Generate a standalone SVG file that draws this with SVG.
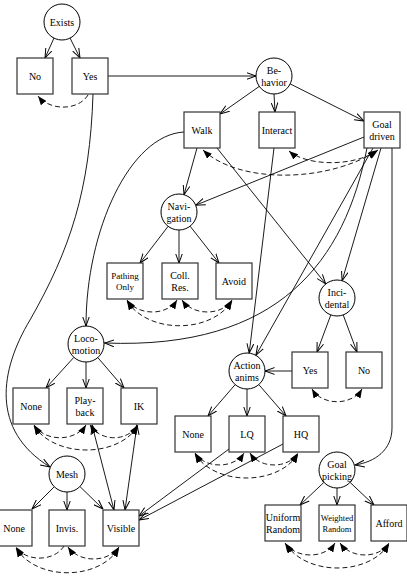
<svg xmlns="http://www.w3.org/2000/svg" width="407" height="584" viewBox="0 0 407 584">
<defs>
<style>
.n rect{fill:#fff;stroke:#333;stroke-width:1.2}
.n circle{fill:#fff;stroke:#000;stroke-width:1}
.n text{font-family:"Liberation Serif","Times New Roman",serif;font-size:10px;text-anchor:middle;fill:#000}
.n text.s{font-size:9px}
.n text.xs{font-size:8.5px}
#edges path{fill:none;stroke:#000;stroke-width:0.9}
#edges .e{marker-end:url(#open)}
#edges .b{marker-start:url(#open);marker-end:url(#open)}
#edges .d{stroke-dasharray:5,3;marker-start:url(#fill);marker-end:url(#fill)}
#edges .d1{stroke-dasharray:5,3;marker-end:url(#fill)}
</style>
<marker id="open" viewBox="0 0 10 8" markerWidth="10" markerHeight="8" refX="9.5" refY="4" orient="auto-start-reverse" markerUnits="userSpaceOnUse"><path d="M0,0.6 L9.5,4 L0,7.4" fill="none" stroke="#000" stroke-width="1"/></marker>
<marker id="fill" viewBox="0 0 9 7" markerWidth="9" markerHeight="7" refX="9" refY="3.5" orient="auto-start-reverse" markerUnits="userSpaceOnUse"><path d="M0,0 L9,3.5 L0,7 z" fill="#000"/></marker>
</defs>
<rect width="407" height="584" fill="#fff"/>
<g id="edges">
<path class="e" d="M54,38 L45,58"/>
<path class="e" d="M70,38 L80,58"/>
<path class="e" d="M108,76 L256,76"/>
<path class="e" d="M259.3,86.4 L220,114"/>
<path class="e" d="M274,94 L275,112"/>
<path class="e" d="M290.2,83.9 L364,121"/>
<path class="e" d="M197,148 L184,194.7"/>
<path class="e" d="M217,148 L325.7,283.9"/>
<path class="e" d="M274,148 L249.2,353.1"/>
<path class="e" d="M364,137 L195.7,205.2"/>
<path class="e" d="M373,148 L255.9,355.3"/>
<path class="e" d="M381,148 L342.1,280.7"/>
<path class="e" d="M392,148 L392,428 C392,450 375,462 355,465"/>
<path class="e" d="M367,148 C345,260 280,350 104.5,343"/>
<path class="e" d="M184,132 C130,135 86,230 86,326"/>
<path class="e" d="M93,94 C90,190 70,250 30,320 C0,370 -10,430 50,467"/>
<path class="e" d="M73.9,357.3 L46,388"/>
<path class="e" d="M86,362 L86,388"/>
<path class="e" d="M97.8,357.6 L124,388"/>
<path class="e" d="M235.2,384.6 L208,416"/>
<path class="e" d="M247,389 L247,416"/>
<path class="e" d="M258.8,384.6 L286,416"/>
<path class="e" d="M168.1,226.3 L140,263"/>
<path class="e" d="M179,230 L179,263"/>
<path class="e" d="M190.1,226.2 L219,263"/>
<path class="e" d="M330.8,314.9 L317,352"/>
<path class="e" d="M343.2,314.9 L357,352"/>
<path class="e" d="M54.3,486.7 L32,509"/>
<path class="e" d="M67,492 L67,510"/>
<path class="e" d="M79.9,486.5 L103,509"/>
<path class="e" d="M323.9,482.4 L300,505"/>
<path class="e" d="M337,488 L337,505"/>
<path class="e" d="M350.1,482.4 L374,505"/>
<path class="e" d="M292,371 L265,371"/>
<path class="e" d="M229,449 L139,516"/>
<path class="e" d="M283,444 L139,520"/>
<path class="b" d="M92,425 L114,510"/>
<path class="b" d="M137,425 L125,510"/>
<path class="d1" d="M88,95 C78,111 50,111 38,96"/>
<path class="d" d="M203,150 C240,185 330,182 378,150"/>
<path class="d" d="M289,151 C305,165 350,168 377,151"/>
<path class="d" d="M127,300 C138,316 167,316 177,300"/>
<path class="d" d="M182,300 C193,316 222,316 232,300"/>
<path class="d" d="M127,301 C148,334 211,334 232,301"/>
<path class="d" d="M34,425 C45,442 75,442 86,425"/>
<path class="d" d="M90,425 C101,442 127,442 138,425"/>
<path class="d" d="M34,426 C55,458 118,458 138,426"/>
<path class="d" d="M195,453 C205,469 234,469 244,453"/>
<path class="d" d="M250,453 C260,469 288,469 298,453"/>
<path class="d" d="M195,454 C215,486 278,486 298,454"/>
<path class="d1" d="M64,546 C54,562 26,562 16,547"/>
<path class="d" d="M68,547 C79,563 108,563 119,547"/>
<path class="d" d="M16,548 C36,581 99,581 119,548"/>
<path class="d" d="M312,389 C322,406 352,406 362,389"/>
<path class="d" d="M285,543 C296,559 325,559 335,543"/>
<path class="d" d="M340,543 C351,559 379,559 389,543"/>
<path class="d" d="M286,544 C306,576 369,576 389,544"/>
</g>
<g id="exists" class="n"><circle cx="62" cy="22" r="18"/><text x="62" y="25.5">Exists</text></g>
<g id="exists-no" class="n"><rect x="17" y="58" width="36" height="36"/><text x="35" y="79.5">No</text></g>
<g id="exists-yes" class="n"><rect x="72" y="58" width="36" height="36"/><text x="90" y="79.5">Yes</text></g>
<g id="behavior" class="n"><circle cx="274" cy="76" r="18"/><text x="274" y="73.5">Be-</text><text x="274" y="85.5">havior</text></g>
<g id="walk" class="n"><rect x="184" y="112" width="36" height="36"/><text x="202" y="133.5">Walk</text></g>
<g id="interact" class="n"><rect x="259" y="112" width="36" height="36"/><text x="277" y="133.5">Interact</text></g>
<g id="goal-driven" class="n"><rect x="364" y="112" width="36" height="36"/><text x="382" y="127.5">Goal</text><text x="382" y="139.5">driven</text></g>
<g id="navigation" class="n"><circle cx="179" cy="212" r="18"/><text x="179" y="209.5">Navi-</text><text x="179" y="221.5">gation</text></g>
<g id="pathing-only" class="n"><rect x="107" y="263" width="36" height="36"/><text class="s" x="125" y="279">Pathing</text><text class="s" x="125" y="290">Only</text></g>
<g id="coll-res" class="n"><rect x="162" y="263" width="36" height="36"/><text x="180" y="278.5">Coll.</text><text x="180" y="290.5">Res.</text></g>
<g id="avoid" class="n"><rect x="216" y="263" width="36" height="36"/><text x="234" y="284.5">Avoid</text></g>
<g id="incidental" class="n"><circle cx="337" cy="298" r="18"/><text x="337" y="295.5">Inci-</text><text x="337" y="307.5">dental</text></g>
<g id="locomotion" class="n"><circle cx="86" cy="344" r="18"/><text x="86" y="341.5">Loco-</text><text x="86" y="353.5">motion</text></g>
<g id="action-anims" class="n"><circle cx="247" cy="371" r="18"/><text x="247" y="368.5">Action</text><text x="247" y="380.5">anims</text></g>
<g id="incidental-yes" class="n"><rect x="292" y="352" width="36" height="36"/><text x="310" y="373.5">Yes</text></g>
<g id="incidental-no" class="n"><rect x="346" y="352" width="36" height="36"/><text x="364" y="373.5">No</text></g>
<g id="loco-none" class="n"><rect x="13" y="388" width="36" height="36"/><text x="31" y="409.5">None</text></g>
<g id="playback" class="n"><rect x="67" y="388" width="36" height="36"/><text x="85" y="403.5">Play-</text><text x="85" y="415.5">back</text></g>
<g id="ik" class="n"><rect x="121" y="388" width="36" height="36"/><text x="139" y="409.5">IK</text></g>
<g id="anim-none" class="n"><rect x="175" y="416" width="36" height="36"/><text x="193" y="437.5">None</text></g>
<g id="lq" class="n"><rect x="229" y="416" width="36" height="36"/><text x="247" y="437.5">LQ</text></g>
<g id="hq" class="n"><rect x="283" y="416" width="36" height="36"/><text x="301" y="437.5">HQ</text></g>
<g id="mesh" class="n"><circle cx="67" cy="474" r="18"/><text x="67" y="477.5">Mesh</text></g>
<g id="goal-picking" class="n"><circle cx="337" cy="470" r="18"/><text x="337" y="467.5">Goal</text><text x="337" y="479.5">picking</text></g>
<g id="mesh-none" class="n"><rect x="-4" y="510" width="36" height="36"/><text x="14" y="531.5">None</text></g>
<g id="invis" class="n"><rect x="49" y="510" width="36" height="36"/><text x="67" y="531.5">Invis.</text></g>
<g id="visible" class="n"><rect x="103" y="510" width="36" height="36"/><text x="121" y="531.5">Visible</text></g>
<g id="uniform-random" class="n"><rect x="265" y="505" width="36" height="36"/><text x="283" y="520.5">Uniform</text><text x="283" y="532.5">Random</text></g>
<g id="weighted-random" class="n"><rect x="319" y="505" width="36" height="36"/><text class="xs" x="337" y="520.5">Weighted</text><text class="xs" x="337" y="531.5">Random</text></g>
<g id="afford" class="n"><rect x="371" y="505" width="36" height="36"/><text x="389" y="526.5">Afford</text></g>
</svg>
